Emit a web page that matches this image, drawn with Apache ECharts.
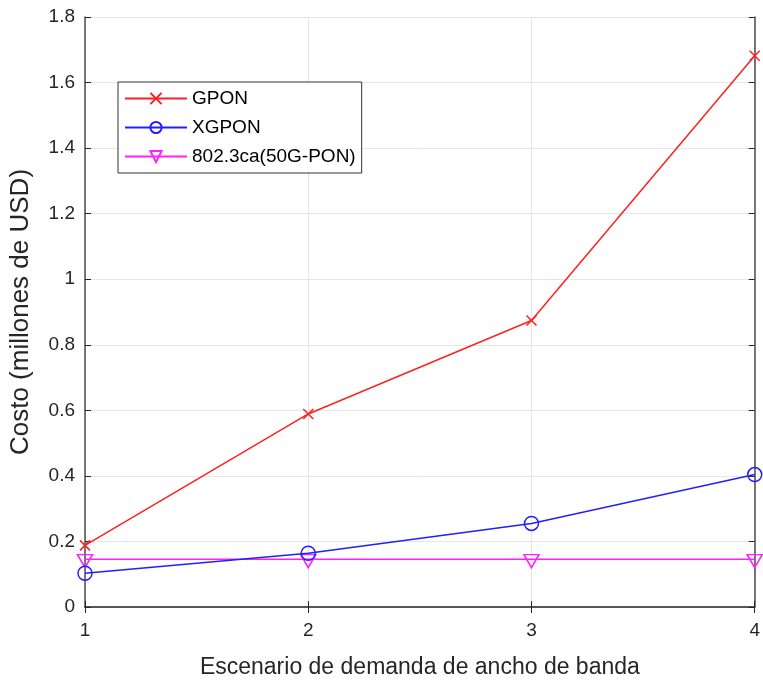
<!DOCTYPE html>
<html>
<head>
<meta charset="utf-8">
<script src="https://cdn.jsdelivr.net/npm/echarts@6/dist/echarts.min.js"></script>
<style>
  html, body { margin: 0; padding: 0; background: #fff; }
  #main { width: 763px; height: 684px; }
</style>
</head>
<body>
<div id="main"></div>
<script>
const scenarios = [1, 2, 3, 4];
const gpon = [0.188, 0.589, 0.874, 1.682];
const xgpon = [0.103, 0.164, 0.255, 0.404];
const pon50g = [0.146, 0.146, 0.146, 0.146];

const pairs = (ys) => scenarios.map((x, i) => [x, ys[i]]);

const crossSym = 'path://M0,0L10,10M10,0L0,10';
const triDownSym = 'path://M0,0L10,0L5,9Z';
const font = 'Liberation Sans, Arial, sans-serif';
const axisColor = '#4d4d4d';

const chart = echarts.init(document.getElementById('main'));
chart.setOption({
  animation: false,
  grid: { left: 81, right: 5, top: 17, bottom: 74 },
  legend: {
    orient: 'vertical',
    left: 118,
    top: 82,
    padding: [7, 6, 7, 6],
    itemWidth: 62,
    itemHeight: 14,
    itemGap: 10,
    borderColor: '#333',
    borderWidth: 1,
    backgroundColor: '#fff',
    textStyle: { fontFamily: font, fontSize: 19, color: '#000' },
    data: ['GPON', 'XGPON', '802.3ca(50G-PON)']
  },
  xAxis: [{
    type: 'value', min: 1, max: 4, interval: 1,
    name: 'Escenario de demanda de ancho de banda',
    nameLocation: 'middle', nameGap: 49,
    nameTextStyle: { fontFamily: font, fontSize: 23, color: '#262626' },
    axisLine: { lineStyle: { color: axisColor, width: 1.5 } },
    axisTick: { inside: true, length: 6, lineStyle: { color: '#262626' } },
    axisLabel: { fontFamily: font, fontSize: 19, color: '#262626', margin: 14 },
    splitLine: { show: true, lineStyle: { color: '#e6e6e6' } }
  }, {
    type: 'value', min: 1, max: 4, interval: 1, position: 'top',
    axisLine: { lineStyle: { color: axisColor, width: 1.5 } },
    axisTick: { inside: true, length: 6, lineStyle: { color: '#262626' } },
    axisLabel: { show: false },
    splitLine: { show: false }
  }],
  yAxis: [{
    type: 'value', min: 0, max: 1.8, interval: 0.2,
    name: 'Costo (millones de USD)',
    nameLocation: 'middle', nameGap: 51,
    nameTextStyle: { fontFamily: font, fontSize: 26, color: '#262626' },
    axisLine: { show: true, lineStyle: { color: axisColor, width: 1.5 } },
    axisTick: { show: true, inside: true, length: 6, lineStyle: { color: '#262626' } },
    axisLabel: { fontFamily: font, fontSize: 19, color: '#262626', margin: 10 },
    splitLine: { show: true, lineStyle: { color: '#e6e6e6' } }
  }, {
    type: 'value', min: 0, max: 1.8, interval: 0.2, position: 'right',
    axisLine: { show: true, lineStyle: { color: axisColor, width: 1.5 } },
    axisTick: { show: true, inside: true, length: 6, lineStyle: { color: '#262626' } },
    axisLabel: { show: false },
    splitLine: { show: false }
  }],
  series: [{
    name: 'GPON', type: 'line', data: pairs(gpon),
    symbol: crossSym, symbolSize: 10,
    lineStyle: { color: '#ff2020', width: 1.5 },
    itemStyle: { color: 'rgba(0,0,0,0)', borderColor: '#ff2020', borderWidth: 1.5 },
    z: 4
  }, {
    name: 'XGPON', type: 'line', data: pairs(xgpon),
    symbol: 'circle', symbolSize: 14,
    lineStyle: { color: '#2020ff', width: 1.5 },
    itemStyle: { color: 'rgba(0,0,0,0)', borderColor: '#2020ff', borderWidth: 1.5 },
    z: 3
  }, {
    name: '802.3ca(50G-PON)', type: 'line', data: pairs(pon50g),
    symbol: triDownSym, symbolSize: [15, 13], symbolOffset: [0, 2],
    lineStyle: { color: '#ff20ff', width: 1.5 },
    itemStyle: { color: 'rgba(0,0,0,0)', borderColor: '#ff20ff', borderWidth: 1.5 },
    z: 2
  }]
});
</script>
</body>
</html>
